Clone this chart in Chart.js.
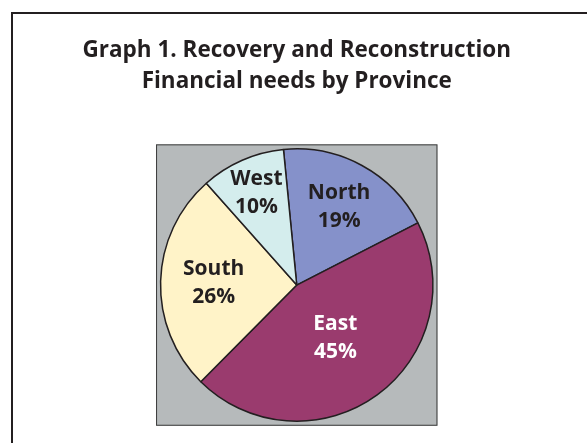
<!DOCTYPE html>
<html>
<head>
<meta charset="utf-8">
<script src="https://cdn.jsdelivr.net/npm/chart.js@4.4.1/dist/chart.umd.min.js"></script>
<style>
  html, body { margin: 0; padding: 0; background: #fff; }
  #wrap { position: relative; width: 587px; height: 443px; overflow: hidden; }
  #frame { position: absolute; left: 11px; top: 12px; width: 700px; height: 600px;
           border-left: 2px solid #231f20; border-top: 2px solid #231f20; }
  #chart { position: absolute; left: 0; top: 0; }
</style>
</head>
<body>
<div id="wrap">
  <div id="frame"></div>
  <canvas id="chart" width="587" height="443"></canvas>
</div>
<script>
const provinces = ['North', 'East', 'South', 'West'];
const shares = [19, 45, 26, 10];
const sliceColors = ['#8591ca', '#9a3b6e', '#fff3c8', '#d4eded'];
const labelColors = ['#231f20', '#ffffff', '#231f20', '#231f20'];
const labelRadius = [0.65, 0.48, 0.61, 0.74];

// gray square behind the pie
const plotBox = {
    id: 'plotBox',
    beforeDatasetsDraw(chart) {
        const {ctx} = chart;
        const arc = chart.getDatasetMeta(0).data[0];
        if (!arc) return;
        const half = arc.outerRadius + 4.5;
        ctx.save();
        ctx.fillStyle = '#b6babb';
        ctx.strokeStyle = '#3b3b3b';
        ctx.lineWidth = 1;
        ctx.fillRect(arc.x - half, arc.y - half, half * 2, half * 2);
        ctx.strokeRect(arc.x - half + 0.5, arc.y - half + 0.5, half * 2 - 1, half * 2 - 1);
        ctx.restore();
    }
};

// name and percentage inside each slice
const sliceLabels = {
    id: 'sliceLabels',
    afterDatasetsDraw(chart) {
        const {ctx} = chart;
        const meta = chart.getDatasetMeta(0);
        ctx.save();
        ctx.font = 'bold 21px "Open Sans"';
        ctx.textAlign = 'center';
        ctx.textBaseline = 'middle';
        meta.data.forEach(function (arc, i) {
            const mid = (arc.startAngle + arc.endAngle) / 2;
            const r = arc.outerRadius * labelRadius[i];
            const x = arc.x + Math.cos(mid) * r;
            const y = arc.y + Math.sin(mid) * r;
            ctx.fillStyle = labelColors[i];
            ctx.fillText(provinces[i], x, y - 14);
            ctx.fillText(shares[i] + '%', x, y + 14);
        });
        ctx.restore();
    }
};

new Chart(document.getElementById('chart'), {
    type: 'pie',
    data: {
        labels: provinces,
        datasets: [{
            data: shares,
            backgroundColor: sliceColors,
            borderColor: '#231f20',
            borderWidth: 1.5
        }]
    },
    options: {
        responsive: false,
        animation: false,
        rotation: -5.6,
        layout: { padding: { left: 6.5, right: 0, bottom: 21 } },
        plugins: {
            legend: { display: false },
            tooltip: { enabled: false },
            title: {
                display: true,
                text: ['Graph 1. Recovery and Reconstruction', 'Financial needs by Province'],
                color: '#231f20',
                font: { family: '"Open Sans"', size: 22.5, weight: 'bold', lineHeight: 1.38 },
                padding: { top: 35, bottom: 51 }
            }
        }
    },
    plugins: [plotBox, sliceLabels]
});
</script>
</body>
</html>
